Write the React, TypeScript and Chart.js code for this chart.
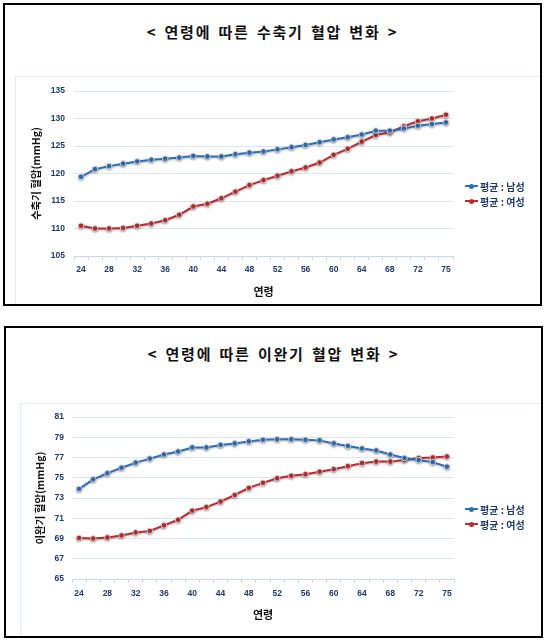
import { useEffect, useRef } from "react"
import { Chart, registerables } from "chart.js"

Chart.register(...registerables)

// ages (x categories); tick labels shown on every other one
const ages = [
  "24", "26", "28", "30", "32", "34", "36", "38", "40", "42", "44", "46", "48", "50",
  "52", "54", "56", "58", "60", "62", "64", "66", "68", "70", "72", "74", "75",
]

const seriesNames = ["평균 : 남성", "평균 : 여성"]

// systolic blood pressure (mmHg)
const systolicMale = [
  119.4, 120.8, 121.35, 121.8, 122.2, 122.5, 122.7, 122.9, 123.2, 123.1, 123.1, 123.5, 123.8, 124.0,
  124.4, 124.8, 125.2, 125.7, 126.2, 126.6, 127.1, 127.8, 127.8, 128.2, 128.7, 129.0, 129.3,
]
const systolicFemale = [
  110.5, 110.0, 110.0, 110.1, 110.5, 110.9, 111.5, 112.5, 114.0, 114.5, 115.5, 116.7, 117.9, 118.8,
  119.6, 120.4, 121.1, 122.0, 123.4, 124.5, 125.8, 127.0, 127.5, 128.6, 129.5, 130.0, 130.7,
]

// diastolic blood pressure (mmHg)
const diastolicMale = [
  73.9, 74.85, 75.45, 76.0, 76.5, 76.9, 77.3, 77.6, 78.0, 78.0, 78.25, 78.4, 78.6, 78.75,
  78.8, 78.8, 78.75, 78.7, 78.4, 78.15, 77.9, 77.7, 77.3, 76.95, 76.75, 76.55, 76.1,
]
const diastolicFemale = [
  69.05, 69.0, 69.1, 69.3, 69.6, 69.75, 70.3, 70.85, 71.75, 72.1, 72.65, 73.3, 74.0, 74.5,
  74.95, 75.2, 75.35, 75.6, 75.85, 76.15, 76.45, 76.6, 76.6, 76.75, 76.95, 77.0, 77.1,
]

const BLUE = "#2f6eba"
const RED = "#be2a2e"
const NAVY = "#1c3a6e"
const GRID = "#dbe5f1"

// soft grey shadow under the lines, like the original office chart
const shadowPlugin = {
  id: "lineShadow",
  beforeDatasetsDraw(chart: Chart) {
    const c = chart.ctx
    c.save()
    c.shadowColor = "rgba(0,0,0,0.28)"
    c.shadowBlur = 2
    c.shadowOffsetX = 0
    c.shadowOffsetY = 1
  },
  afterDatasetsDraw(chart: Chart) {
    chart.ctx.restore()
  },
}

interface Geometry {
  boxLeft: number
  boxTop: number
  boxWidth: number
  boxHeight: number
  titleY: number
  panelLeft: number
  panelTop: number
  yWidth: number
  xHeight: number
  padTop: number
  padRight: number
  yTickPad: number
  yTitlePad: number
  xTickPad: number
  xTitlePad: number
  legendX: number
  legendY: number[]
}

interface BpChartProps {
  title: string
  yTitle: string
  male: number[]
  female: number[]
  yMin: number
  yMax: number
  yStep: number
  g: Geometry
}

function BpChart({ title, yTitle, male, female, yMin, yMax, yStep, g }: BpChartProps) {
  const chartRef = useRef<HTMLCanvasElement>(null)
  const chartInstance = useRef<Chart | null>(null)

  const contentW = g.boxWidth - 4
  const contentH = g.boxHeight - 4
  const panelX = g.panelLeft - (g.boxLeft + 2)
  const panelY = g.panelTop - (g.boxTop + 2)
  const canvasW = contentW - panelX - 1
  const canvasH = contentH - panelY - 1

  useEffect(() => {
    if (!chartRef.current) return
    if (chartInstance.current) chartInstance.current.destroy()
    const ctx = chartRef.current.getContext("2d")
    if (!ctx) return

    const lineSet = (label: string, data: number[], color: string) => ({
      label,
      data,
      borderColor: color,
      backgroundColor: color,
      borderWidth: 2,
      pointRadius: 2.8,
      pointBorderWidth: 1,
      pointBorderColor: "#d2d2d2",
      pointBackgroundColor: color,
      tension: 0,
    })

    chartInstance.current = new Chart(ctx, {
      type: "line",
      data: {
        labels: ages,
        datasets: [lineSet(seriesNames[0], male, BLUE), lineSet(seriesNames[1], female, RED)],
      },
      plugins: [shadowPlugin],
      options: {
        responsive: false,
        animation: false,
        layout: { padding: { top: g.padTop, right: g.padRight, left: 0, bottom: 0 } },
        plugins: {
          legend: { display: false },
          tooltip: { enabled: false },
          title: { display: false },
        },
        scales: {
          x: {
            type: "category",
            offset: true,
            afterFit: (s: any) => {
              s.height = g.xHeight
            },
            grid: {
              offset: true,
              drawOnChartArea: false,
              drawTicks: true,
              tickLength: 4,
              color: "#c8d7ea",
            },
            border: { display: true, color: "#c8d7ea" },
            ticks: {
              autoSkip: false,
              maxRotation: 0,
              padding: g.xTickPad,
              color: NAVY,
              font: { family: "Liberation Sans", size: 8.5, weight: "bold" },
              callback: (_v: any, i: number) => (i % 2 === 0 || i === ages.length - 1 ? ages[i] : ""),
            },
            title: {
              display: true,
              text: "연령",
              color: "#111",
              padding: { top: 0, bottom: g.xTitlePad },
              font: { family: "Noto Sans CJK KR", size: 11, weight: "bold" },
            },
          },
          y: {
            min: yMin,
            max: yMax,
            afterFit: (s: any) => {
              s.width = g.yWidth
            },
            grid: { color: GRID, drawTicks: false, lineWidth: 1 },
            border: { display: false },
            ticks: {
              stepSize: yStep,
              padding: g.yTickPad,
              color: NAVY,
              font: { family: "Liberation Sans", size: 8.5, weight: "bold" },
            },
            title: {
              display: true,
              text: yTitle,
              color: "#111",
              padding: { top: g.yTitlePad, bottom: 0 },
              font: { family: "Noto Sans CJK KR", size: 10.5, weight: "bold" },
            },
          },
        },
      },
    } as any)

    return () => {
      if (chartInstance.current) {
        chartInstance.current.destroy()
        chartInstance.current = null
      }
    }
  }, [male, female])

  const colors = [BLUE, RED]

  return (
    <>
      <div
        style={{
          position: "absolute",
          left: g.boxLeft,
          top: g.boxTop,
          width: g.boxWidth,
          height: g.boxHeight,
          boxSizing: "border-box",
          border: "2px solid #000",
          background: "#fff",
        }}
      >
        <div
          style={{
            position: "absolute",
            left: 0,
            width: contentW,
            top: g.titleY - (g.boxTop + 2) - 10,
            height: 20,
            lineHeight: "20px",
            textAlign: "center",
            fontFamily: "'Noto Sans CJK KR', sans-serif",
            fontWeight: 700,
            fontSize: 15,
            letterSpacing: 1.8,
            wordSpacing: 2,
            color: "#111",
            whiteSpace: "pre",
          }}
        >
          {title}
        </div>
        <div
          style={{
            position: "absolute",
            left: panelX,
            top: panelY,
            width: contentW - panelX,
            height: contentH - panelY,
            boxSizing: "border-box",
            borderLeft: "1px solid #e1e9f4",
            borderTop: "1px solid #e1e9f4",
          }}
        >
          <canvas ref={chartRef} width={canvasW} height={canvasH} style={{ display: "block" }} />
        </div>
      </div>
      {seriesNames.map((name, i) => (
        <div
          key={name}
          style={{
            position: "absolute",
            left: g.legendX,
            top: g.legendY[i] - 8,
            height: 16,
            display: "flex",
            alignItems: "center",
            fontFamily: "'Noto Sans CJK KR', sans-serif",
            fontWeight: 700,
            fontSize: 10,
            color: NAVY,
            whiteSpace: "pre",
          }}
        >
          <span style={{ position: "relative", width: 13, height: 2, background: colors[i], marginRight: 2 }}>
            <span
              style={{
                position: "absolute",
                left: 4,
                top: -1.5,
                width: 5,
                height: 5,
                borderRadius: "50%",
                background: colors[i],
              }}
            />
          </span>
          {name}
        </div>
      ))}
    </>
  )
}

const geoTop: Geometry = {
  boxLeft: 3,
  boxTop: 3,
  boxWidth: 539,
  boxHeight: 303,
  titleY: 32,
  panelLeft: 15,
  panelTop: 76,
  yWidth: 58,
  xHeight: 48,
  padTop: 9,
  padRight: 87,
  yTickPad: 9,
  yTitlePad: 14,
  xTickPad: 5,
  xTitlePad: 6,
  legendX: 465,
  legendY: [186, 201],
}

const geoBottom: Geometry = {
  boxLeft: 4,
  boxTop: 326,
  boxWidth: 539,
  boxHeight: 312,
  titleY: 354,
  panelLeft: 20,
  panelTop: 403,
  yWidth: 51,
  xHeight: 57,
  padTop: 7,
  padRight: 87,
  yTickPad: 8,
  yTitlePad: 13,
  xTickPad: 6,
  xTitlePad: 15,
  legendX: 465,
  legendY: [509, 524],
}

export default function App() {
  return (
    <div style={{ position: "absolute", left: 0, top: 0, width: 550, height: 642, background: "#fff" }}>
      <BpChart
        title="< 연령에 따른 수축기 혈압 변화 >"
        yTitle="수축기 혈압(mmHg)"
        male={systolicMale}
        female={systolicFemale}
        yMin={105}
        yMax={135}
        yStep={5}
        g={geoTop}
      />
      <BpChart
        title="< 연령에 따른 이완기 혈압 변화 >"
        yTitle="이완기 혈압(mmHg)"
        male={diastolicMale}
        female={diastolicFemale}
        yMin={65}
        yMax={81}
        yStep={2}
        g={geoBottom}
      />
    </div>
  )
}
